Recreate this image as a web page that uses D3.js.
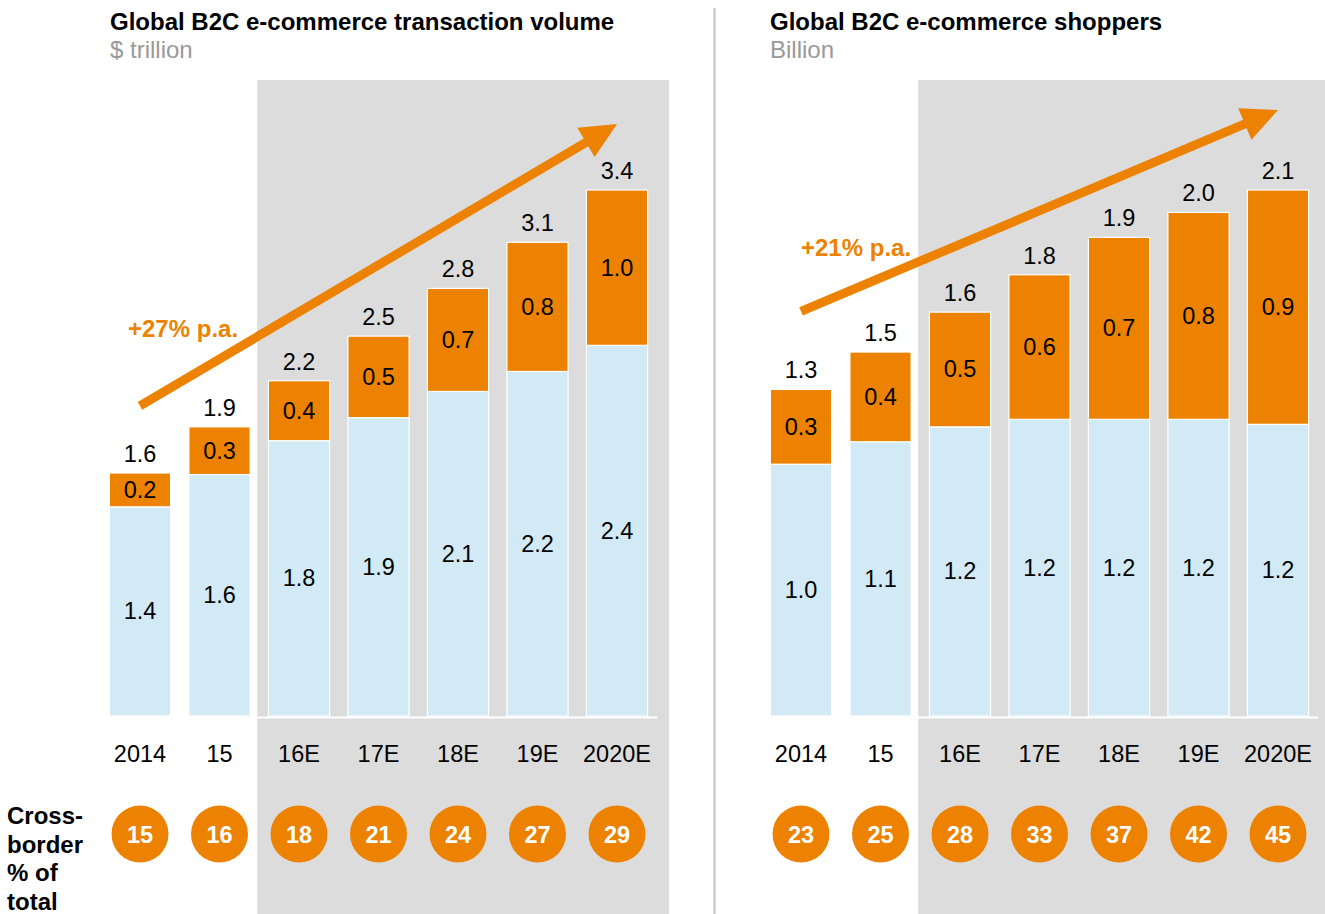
<!DOCTYPE html>
<html>
<head>
<meta charset="utf-8">
<script src="https://cdn.jsdelivr.net/npm/d3@7"></script>
<style>
body{margin:0;background:#fff;}
svg text{font-family:"Liberation Sans",Arial,sans-serif;}
</style>
</head>
<body>
<div id="chart"></div>
<script>
// data
let years=["2014","15","16E","17E","18E","19E","2020E"];
let volDomestic=[1.36,1.57,1.79,1.94,2.11,2.24,2.41];
let volCross=[0.22,0.31,0.39,0.53,0.67,0.84,1.01];
let volShare=[15,16,18,21,24,27,29];
let shopBase=[1.01,1.10,1.16,1.19,1.19,1.19,1.17];
let shopCross=[0.30,0.36,0.46,0.58,0.73,0.83,0.94];
let shopShare=[23,25,28,33,37,42,45];

let width=1325, height=914;
let orange="#ED8200", blue="#D1EAF6", grey="#DCDCDC";
let baseY=716, topY=190;
let fmt=d3.format(".1f");

let chart=d3.select("#chart").append("svg")
  .attr("width",width).attr("height",height);

// divider
chart.append("line")
  .attr("x1",714.5).attr("x2",714.5).attr("y1",8).attr("y2",height)
  .attr("stroke","#c4c4c4").attr("stroke-width",2);

function panel(opt){
  let totals=opt.base.map((d,i)=>d+opt.cross[i]);
  let x=d3.scaleBand().domain(years).range(opt.range)
    .paddingInner(0.23).paddingOuter(0.115);
  let y=d3.scaleLinear().domain([0,d3.max(totals)]).range([baseY,topY]);
  let step=x.step(), bw=x.bandwidth();
  let cx=d=>x(d)+bw/2;

  // shaded forecast area
  let sx=x(years[2])-(step-bw)/2-2;
  chart.append("rect")
    .attr("x",sx).attr("y",80)
    .attr("width",opt.shadeRight-sx).attr("height",height-80)
    .attr("fill",grey);

  let g=chart.append("g");
  g.selectAll(".base").data(opt.base).enter().append("rect")
    .attr("x",(d,i)=>x(years[i])).attr("width",bw)
    .attr("y",d=>y(d)).attr("height",d=>baseY-y(d))
    .attr("fill",blue).attr("stroke","#fff").attr("stroke-width",1.2);
  g.selectAll(".cross").data(opt.cross).enter().append("rect")
    .attr("x",(d,i)=>x(years[i])).attr("width",bw)
    .attr("y",(d,i)=>y(totals[i])).attr("height",(d,i)=>y(opt.base[i])-y(totals[i]))
    .attr("fill",orange).attr("stroke","#fff").attr("stroke-width",1.2);

  // axis line
  let xAxis=d3.axisBottom(x).tickSize(0).tickPadding(28);
  let ax=chart.append("g").attr("transform","translate(0,"+(baseY+1)+")").call(xAxis);
  ax.select(".domain").attr("stroke","#fff").attr("stroke-width",2);
  ax.selectAll("text").attr("font-size",23.5).attr("fill","#000")
    .attr("font-family","'Liberation Sans',Arial,sans-serif");

  // labels
  g.selectAll(".lb").data(opt.base).enter().append("text")
    .attr("x",(d,i)=>cx(years[i])).attr("y",d=>(y(d)+baseY)/2+8)
    .attr("text-anchor","middle").attr("font-size",23.5).text(d=>fmt(d));
  g.selectAll(".lc").data(opt.cross).enter().append("text")
    .attr("x",(d,i)=>cx(years[i])).attr("y",(d,i)=>(y(totals[i])+y(opt.base[i]))/2+8)
    .attr("text-anchor","middle").attr("font-size",23.5).text(d=>fmt(d));
  g.selectAll(".lt").data(totals).enter().append("text")
    .attr("x",(d,i)=>cx(years[i])).attr("y",d=>y(d)-11)
    .attr("text-anchor","middle").attr("font-size",23.5).text(d=>fmt(d));

  // cross-border circles
  g.selectAll(".c").data(opt.share).enter().append("circle")
    .attr("cx",(d,i)=>cx(years[i])).attr("cy",834).attr("r",28.5).attr("fill",orange);
  g.selectAll(".ct").data(opt.share).enter().append("text")
    .attr("x",(d,i)=>cx(years[i])).attr("y",842.5)
    .attr("text-anchor","middle").attr("font-size",23.5).attr("font-weight","bold")
    .attr("fill","#fff").text(d=>d);

  // growth arrow
  let x1=cx(years[0]), y1=y(totals[0])-opt.arrowOff[0];
  let x2=cx(years[6]), y2=y(totals[6])-opt.arrowOff[1];
  let ang=Math.atan2(y2-y1,x2-x1);
  let hl=36, hw=17;
  let bx=x2-hl*Math.cos(ang), by=y2-hl*Math.sin(ang);
  chart.append("line").attr("x1",x1).attr("y1",y1).attr("x2",bx+4*Math.cos(ang)).attr("y2",by+4*Math.sin(ang))
    .attr("stroke",orange).attr("stroke-width",9);
  chart.append("polygon")
    .attr("points",[[x2,y2],[bx+hw*Math.sin(ang),by-hw*Math.cos(ang)],[bx-hw*Math.sin(ang),by+hw*Math.cos(ang)]].map(p=>p.join(",")).join(" "))
    .attr("fill",orange);
  chart.append("text").attr("x",opt.cagrPos[0]).attr("y",opt.cagrPos[1])
    .attr("font-size",24).attr("font-weight","bold").attr("fill",orange).text(opt.cagr);

  // titles
  chart.append("text").attr("x",opt.titleX).attr("y",30)
    .attr("font-size",24).attr("font-weight","bold").text(opt.title);
  chart.append("text").attr("x",opt.titleX).attr("y",58)
    .attr("font-size",24).attr("fill","#999").text(opt.unit);
}

panel({
  base:volDomestic, cross:volCross, share:volShare,
  range:[100.25,656.75], shadeRight:669,
  arrowOff:[67,66], cagr:"+27% p.a.", cagrPos:[128,337],
  title:"Global B2C e-commerce transaction volume", unit:"$ trillion", titleX:110
});
panel({
  base:shopBase, cross:shopCross, share:shopShare,
  range:[761.25,1317.75], shadeRight:1325,
  arrowOff:[78,80], cagr:"+21% p.a.", cagrPos:[801,256],
  title:"Global B2C e-commerce shoppers", unit:"Billion", titleX:770
});

// row label
chart.append("text").attr("x",7).attr("y",824)
  .attr("font-size",24).attr("font-weight","bold")
  .selectAll("tspan").data(["Cross-","border","% of","total"]).enter().append("tspan")
  .attr("x",7).attr("dy",(d,i)=>i?28.7:0).text(d=>d);
</script>
</body>
</html>
